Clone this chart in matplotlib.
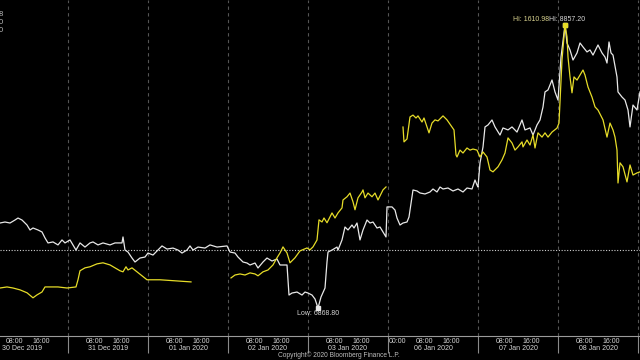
import numpy as np
import matplotlib
matplotlib.use('Agg')
import matplotlib.pyplot as plt
from matplotlib.transforms import blended_transform_factory

# ---- time axis: trading hours since 30 Dec 2019 00:00 (weekend removed) ----
day_bounds = [24, 48, 72, 96, 120, 147, 171, 195]
time_pos = [8, 16, 32, 40, 56, 64, 80, 88, 104, 112, 123, 131, 139, 155, 163, 179, 187]
time_labels = ['08:00', '16:00', '08:00', '16:00', '08:00', '16:00', '08:00', '16:00',
               '08:00', '16:00', '00:00', '08:00', '16:00', '08:00', '16:00', '08:00', '16:00']
date_pos = [10.2, 36, 60, 84, 108, 133.5, 159, 183]
date_labels = ['30 Dec 2019', '31 Dec 2019', '01 Jan 2020', '02 Jan 2020',
               '03 Jan 2020', '06 Jan 2020', '07 Jan 2020', '08 Jan 2020']

# ---- white series ----
white_t = [3.6, 5.1, 6.6, 8.1, 9.0, 10.2, 11.7, 12.6, 13.5, 15.0,
           16.2, 17.1, 18.0, 19.5, 21.0, 22.2, 23.1, 24.6, 25.5, 26.4,
           27.6, 29.1, 30.6, 31.5, 33.0, 34.5, 36.6, 38.1, 40.2, 40.5,
           41.1, 42.0, 43.2, 44.1, 45.6, 47.1, 48.0, 49.5, 51.0, 52.2,
           53.7, 55.5, 57.0, 58.2, 59.7, 60.6, 61.5, 63.0, 65.1, 66.6,
           68.7, 71.7, 72.6, 74.1, 75.0, 76.5, 77.7, 78.6, 80.1, 81.0,
           82.5, 83.7, 85.2, 86.7, 87.6, 89.1, 89.7, 90.3, 91.2, 92.7,
           94.2, 95.1, 96.0, 97.2, 98.1, 99.0, 99.9, 101.1, 101.7, 102.0,
           103.2, 104.7, 105.0, 106.2, 107.1, 108.0, 109.2, 109.8, 110.7, 111.6,
           112.5, 113.7, 114.6, 115.5, 116.7, 117.6, 118.5, 119.4, 119.7, 121.2,
           122.1, 122.7, 123.6, 124.5, 125.7, 126.3, 127.2, 127.5, 128.7, 129.6,
           131.1, 132.6, 133.5, 134.7, 135.6, 136.5, 138.0, 139.5, 141.0, 142.5,
           143.7, 145.2, 146.1, 146.7, 147.0, 147.6, 148.5, 149.1, 150.0, 151.2,
           152.1, 153.6, 154.5, 156.0, 157.2, 158.7, 160.2, 161.1, 162.6, 163.5,
           164.7, 165.6, 166.5, 167.1, 168.0, 169.2, 170.1, 171.0, 171.9, 173.1,
           173.7, 174.6, 175.5, 176.7, 177.6, 178.5, 179.7, 180.6, 181.5, 183.0,
           184.2, 185.1, 185.7, 186.3, 186.9, 187.5, 188.7, 189.0, 190.2, 191.1,
           192.0, 192.6, 193.5, 194.7, 195.6]
white_v = [7466, 7473, 7466, 7487, 7501, 7487, 7452, 7417, 7431, 7417,
           7403, 7361, 7326, 7333, 7312, 7347, 7326, 7347, 7312, 7276,
           7326, 7297, 7326, 7333, 7312, 7326, 7312, 7326, 7326, 7368,
           7276, 7262, 7220, 7192, 7220, 7227, 7255, 7241, 7276, 7305,
           7283, 7290, 7276, 7255, 7276, 7305, 7276, 7297, 7290, 7312,
           7297, 7305, 7262, 7255, 7227, 7192, 7185, 7171, 7185, 7150,
           7192, 7220, 7199, 7213, 7171, 7171, 7171, 6960, 6974, 6981,
           6960, 6981, 6974, 6960, 6932, 6868.8, 6946, 7009, 7192, 7262,
           7276, 7297, 7276, 7347, 7438, 7417, 7452, 7431, 7466, 7347,
           7417, 7487, 7466, 7473, 7431, 7438, 7403, 7368, 7579, 7579,
           7557, 7501, 7452, 7466, 7473, 7508, 7649, 7698, 7691, 7677,
           7670, 7684, 7705, 7684, 7719, 7705, 7712, 7691, 7705, 7684,
           7712, 7705, 7768, 7733, 7719, 7888, 8000, 8141, 8155, 8190,
           8141, 8084, 8134, 8120, 8141, 8105, 8190, 8120, 8134, 8084,
           8155, 8190, 8281, 8387, 8401, 8471, 8387, 8330, 8632, 8857.2,
           8731, 8682, 8611, 8661, 8731, 8703, 8668, 8682, 8646, 8717,
           8661, 8632, 8590, 8738, 8661, 8646, 8492, 8387, 8351, 8330,
           8260, 8141, 8295, 8260, 8387]
white_ref = 7276
white_hi = (173.1, 8857.2)
white_lo = (99.0, 6868.8)

# ---- yellow series (NaN = no trading) ----
gold_t = [3.6, 5.7, 7.5, 9.6, 11.7, 13.5, 14.7, 16.2, 17.1, 19.2, 21.0, 23.7, 26.4,
          27.0, 27.6, 29.1, 30.6, 32.7, 34.5, 36.6, 38.1, 39.6, 40.5, 41.4, 42.0,
          43.2, 44.7, 46.2, 47.7, 48.0, 51.6, 56.1, 60.9,
          66.0,
          72.9, 74.1, 75.6, 77.1, 78.6, 80.1, 81.0, 82.5, 84.0, 85.5, 86.7, 87.6,
          88.5, 89.7, 90.6, 92.1, 93.6, 95.7, 96.6, 97.5, 98.7, 99.3, 100.2, 100.8,
          101.7, 103.2, 104.1, 105.0, 106.2, 106.5, 107.7, 108.6, 109.5, 110.1,
          111.0, 112.2, 112.5, 113.1, 114.0, 115.2, 116.1, 117.0, 118.5, 119.4,
          122.0,
          124.5, 124.8, 125.7, 126.6, 127.5, 128.4, 129.0, 130.2, 130.8, 131.7,
          132.3, 133.2, 134.1, 135.0, 136.5, 137.7, 139.2, 139.8, 140.4, 140.7,
          141.6, 142.5, 143.7, 144.6, 145.5, 146.7, 147.6, 148.5, 149.7, 150.6,
          151.5, 153.0, 154.2, 155.1, 156.0, 157.2, 158.1, 159.0, 160.2, 160.5,
          161.7, 162.6, 163.5, 164.1, 165.0, 166.2, 167.1, 168.0, 169.2, 170.7,
          171.3, 172.2, 173.1, 173.7, 174.0, 174.6, 175.2, 175.8, 176.7, 177.6,
          178.5, 179.1, 180.0, 181.2, 182.1, 183.0, 184.5, 185.7, 186.6, 187.5,
          188.1, 188.7, 189.0, 189.6, 190.5, 191.7, 192.6, 193.5, 194.7, 195.6]
gold_v = [1511.8, 1512.2, 1511.8, 1511.1, 1510.0, 1508.1, 1509.2, 1510.3, 1512.2, 1512.2,
          1512.2, 1511.8, 1512.2, 1514.9, 1518.3, 1519.4, 1519.8, 1520.9, 1521.3, 1520.5,
          1519.4, 1518.3, 1517.9, 1519.8, 1518.6, 1519.4, 1517.9, 1516.4, 1514.9, 1514.9,
          1514.9, 1514.5, 1514.1,
          np.nan,
          1515.6, 1516.7, 1517.1, 1516.7, 1517.5, 1517.1, 1516.4, 1517.9, 1518.6, 1520.5,
          1523.2, 1525.0, 1527.3, 1525.0, 1521.3, 1523.2, 1525.8, 1526.9, 1526.2, 1527.3,
          1529.9, 1537.5, 1536.7, 1538.2, 1536.4, 1540.1, 1538.2, 1540.1, 1542.0, 1545.0,
          1546.2, 1547.6, 1544.3, 1541.3, 1545.8, 1548.0, 1548.8, 1545.8, 1547.6, 1546.2,
          1547.6, 1545.0, 1548.8, 1549.9,
          np.nan,
          1572.5, 1566.9, 1568.0, 1576.3, 1577.0, 1575.9, 1576.7, 1574.4, 1575.9, 1572.5,
          1570.3, 1574.0, 1575.2, 1574.8, 1576.7, 1575.2, 1572.5, 1571.4, 1562.0, 1561.2,
          1563.8, 1562.7, 1564.6, 1563.8, 1564.2, 1563.8, 1561.2, 1563.1, 1561.2, 1556.3,
          1555.6, 1557.5, 1560.1, 1562.7, 1568.4, 1566.5, 1563.8, 1565.0, 1566.9, 1565.0,
          1567.6, 1565.7, 1569.5, 1564.6, 1570.3, 1568.7, 1570.3, 1568.7, 1570.6, 1572.1,
          1574.0, 1597.8, 1610.98, 1606.5, 1598.9, 1591.4, 1585.4, 1591.4, 1590.2, 1592.1,
          1594.0, 1592.1, 1587.6, 1583.8, 1580.1, 1578.9, 1575.2, 1568.7, 1574.0, 1571.4,
          1568.7, 1563.8, 1551.4, 1559.0, 1557.5, 1551.8, 1558.2, 1554.4, 1555.2, 1555.6]
gold_hi = (173.1, 1610.98)

WHITE = '#e8e8e8'
YELLOW = '#e6dc28'
LABEL = '#d6d6d6'
FONT = ['Liberation Sans Narrow', 'Liberation Sans', 'DejaVu Sans']
plt.rcParams['font.family'] = FONT
FS = 5.0

fig = plt.figure(figsize=(6.4, 3.6), dpi=100, facecolor='black')
ax = fig.add_axes([0, 24 / 360, 1, 336 / 360])
ax.set_facecolor('black')
ax2 = ax.twinx()

for b in day_bounds:
    ax.axvline(b, color='#555555', lw=0.8, ls=(0, (3, 3)), zorder=1)
ax.axhline(white_ref, color='#d0d0d0', lw=0.8, ls=(0, (1, 1.5)), zorder=2)

ax2.plot(gold_t, gold_v, color=YELLOW, lw=0.9, zorder=3)
ax.plot(white_t, white_v, color=WHITE, lw=0.9, zorder=4)

ax.plot(*white_hi, 's', ms=3, color=WHITE, zorder=5)
ax.plot(*white_lo, 's', ms=3, color=WHITE, zorder=5)
ax2.plot(*gold_hi, 's', ms=3.2, color=YELLOW, zorder=6)

ax2.annotate('Hi: 1610.98', xy=gold_hi, xytext=(-11.5, 4), textcoords='offset points',
             ha='right', va='center', fontsize=FS, color='#d8d28e')
ax2.annotate('Hi: 8857.20', xy=gold_hi, xytext=(-11.5, 4), textcoords='offset points',
             ha='left', va='center', fontsize=FS, color=LABEL)
ax.annotate('Low: 6868.80', xy=white_lo, xytext=(0, -4), textcoords='offset points',
            ha='center', va='center', fontsize=FS, color=LABEL)

ax.set_xlim(3.6, 195.6)
ax.set_ylim(6672.1, 9032.9)
ax2.set_ylim(1493.7, 1620.4)

for a in (ax, ax2):
    for s in ('top', 'left', 'right', 'bottom'):
        a.spines[s].set_visible(False)
    a.tick_params(left=False, right=False, labelleft=False, labelright=False)
ax.spines['bottom'].set_visible(True)
ax.spines['bottom'].set_color('#9a9a9a')
ax.spines['bottom'].set_linewidth(0.8)

ax.set_xticks(day_bounds)
ax.set_xticklabels([])
ax.set_xticks(time_pos, minor=True)
ax.set_xticklabels(time_labels, minor=True)
ax.tick_params(axis='x', which='major', length=12, width=0.8, color='#8a8a8a', direction='out')
ax.tick_params(axis='x', which='minor', length=0, pad=1.5, labelsize=FS, labelcolor=LABEL)

trans = blended_transform_factory(ax.transData, ax.transAxes)
for p, lab in zip(date_pos, date_labels):
    ax.text(p, -0.036, lab, transform=trans, ha='center', va='center',
            fontsize=FS, color=LABEL, clip_on=False)

fig.text(339 / 640, 5 / 360, 'Copyright\u00a9 2020 Bloomberg Finance L.P.', ha='center', va='center',
         fontsize=4.8, color='#bdbdbd')

for ypix, ch in zip([15, 23, 31], ['8', '0', '0']):
    fig.text(3 / 640, 1 - ypix / 360, ch, ha='right', va='center', fontsize=5.5, color='#bbbbbb')

fig.savefig('out.png', dpi=100, facecolor='black')
